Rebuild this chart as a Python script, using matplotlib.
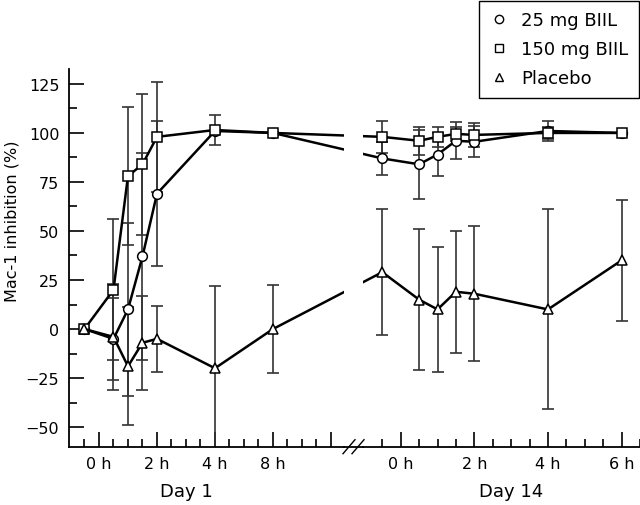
"""Mac-1 inhibition on day 1 and day 14, broken time axis"""

import numpy as np
import matplotlib
matplotlib.use("Agg")
import matplotlib.pyplot as plt
from matplotlib.lines import Line2D
from matplotlib.transforms import blended_transform_factory

plt.rcParams['font.family'] = ['DejaVu Sans']

# sampling times (h), predose drawn at -0.5 h
day1_hours = [-0.5, 0.5, 1, 1.5, 2, 4, 8]
day14_hours = [-0.5, 0.5, 1, 1.5, 2, 4, 6]
day1_ticks = [0, 2, 4, 8, 12]
day1_ticklabels = ['0 h', '2 h', '4 h', '8 h', '']
day14_ticks = [0, 2, 4, 6]
day14_ticklabels = ['0 h', '2 h', '4 h', '6 h']

# mean and SD, day 1
d1_25mg = [0, -5, 10, 37, 69, 101, 100]
d1_25mg_sd = [0, 21, 44, 53, 37, 0, 0]
d1_150mg = [0, 20, 78, 84, 98, 101.5, 100]
d1_150mg_sd = [0, 36, 35, 36, 28, 7.5, 0]
d1_placebo = [0, -4, -19, -7, -5, -20, 0]
d1_placebo_sd = [0, 27, 30, 24, 17, 42, 22.5]

# mean and SD, day 14
d14_25mg = [87, 84, 89, 96, 95.5, 101, 100]
d14_25mg_sd = [8.5, 17.5, 11, 9.5, 8, 5, 0]
d14_150mg = [98, 96, 98, 99.5, 99, 100, 100]
d14_150mg_sd = [8, 7, 5, 3.5, 6, 3, 0]
d14_placebo = [29, 15, 10, 19, 18, 10, 35]
d14_placebo_sd = [32, 36, 32, 31, 34.5, 51, 31]

labels = ['25 mg BIIL', '150 mg BIIL', 'Placebo']
markers = ['o', 's', '^']


def fwd(h):
    """0-4 h linear, after 4 h compressed by 2."""
    h = np.asarray(h, dtype=float)
    return np.where(h <= 4, h, 4 + (h - 4) / 2)


def inv(p):
    p = np.asarray(p, dtype=float)
    return np.where(p <= 4, p, 4 + 2 * (p - 4))


W, H = 640, 506
fig = plt.figure(figsize=(W / 100, H / 100), dpi=100)
bottom, top = 58.3, 436
ax1 = fig.add_axes([69 / W, bottom / H, 275 / W, (top - bottom) / H])
ax2 = fig.add_axes([363 / W, bottom / H, 277 / W, (top - bottom) / H])

ax1.set_xscale('function', functions=(fwd, inv))
ax1.set_xlim(-1.034, float(inv(8.45)))
ax2.set_xlim(-1.024, 6.5)
for ax in (ax1, ax2):
    ax.set_ylim(-60, 132.6)
    for s in ('top', 'right'):
        ax.spines[s].set_visible(False)
    ax.spines['bottom'].set_linewidth(1.3)
    ax.spines['left'].set_linewidth(1.3)
    ax.tick_params(axis='both', which='both', direction='in', width=1.2,
                   labelsize=11.5, pad=7)
    ax.tick_params(which='major', length=11)
    ax.tick_params(which='minor', length=6)
ax2.spines['left'].set_visible(False)
ax2.tick_params(axis='y', which='both', left=False, labelleft=False)

ax1.set_yticks(np.arange(-50, 126, 25))
ax1.set_yticks(np.arange(-50, 131, 12.5), minor=True)
ax1.set_yticklabels([f"{v}".replace('-', '\u2212') for v in range(-50, 126, 25)])
ax1.set_ylabel('Mac-1 inhibition (%)', fontsize=11.5)
ax1.yaxis.set_label_coords(-0.18, 0.6)

ax1.set_xticks(day1_ticks)
ax1.set_xticklabels(day1_ticklabels)
ax1.set_xticks(inv(np.arange(-0.5, 8.01, 0.5)), minor=True)
ax2.set_xticks(day14_ticks)
ax2.set_xticklabels(day14_ticklabels)
ax2.set_xticks(np.arange(-0.5, 6.51, 0.5), minor=True)

ax1.text(3, -0.117, 'Day 1', fontsize=13, ha='center', va='center',
         transform=blended_transform_factory(ax1.transData, ax1.transAxes))
ax2.text(3, -0.117, 'Day 14', fontsize=13, ha='center', va='center',
         transform=blended_transform_factory(ax2.transData, ax2.transAxes))

err_kw = dict(fmt='none', ecolor='#333333', elinewidth=1.2, capsize=4.5,
              capthick=1.2, zorder=2)
mk_kw = dict(color='black', lw=1.8, markersize=7, markerfacecolor='white',
             markeredgecolor='black', markeredgewidth=1.1, zorder=3)

series = [
    (d1_25mg, d1_25mg_sd, d14_25mg, d14_25mg_sd),
    (d1_150mg, d1_150mg_sd, d14_150mg, d14_150mg_sd),
    (d1_placebo, d1_placebo_sd, d14_placebo, d14_placebo_sd),
]

for (y1, e1, y14, e14), m in zip(series, markers):
    ax1.errorbar(day1_hours, y1, yerr=e1, **err_kw)
    ax2.errorbar(day14_hours, y14, yerr=e14, **err_kw)
    ax1.plot(day1_hours, y1, marker=m, **mk_kw)
    ax2.plot(day14_hours, y14, marker=m, **mk_kw)

    # bridge across the break: straight line in display space
    p14 = ax2.transData.transform((day14_hours[0], y14[0]))
    x_in1 = ax1.transData.inverted().transform(p14)[0]
    ax1.plot([day1_hours[-1], x_in1], [y1[-1], y14[0]], color='black',
             lw=1.8, zorder=2.5)
    p1 = ax1.transData.transform((day1_hours[-1], y1[-1]))
    x_in2 = ax2.transData.inverted().transform(p1)[0]
    ax2.plot([x_in2, day14_hours[0]], [y1[-1], y14[0]], color='black',
             lw=1.8, zorder=2.5)

# axis line across the gap and break marks
yb = bottom / H
fig.add_artist(Line2D([344 / W, 363 / W], [yb, yb], color='black', lw=1.3))
for x0 in (343, 352):
    fig.add_artist(Line2D([x0 / W, (x0 + 12) / W], [(bottom - 7) / H, (bottom + 7) / H],
                          color='black', lw=1.0))

handles = [Line2D([], [], linestyle='none', marker=m, markersize=6,
                  markerfacecolor='white', markeredgecolor='black',
                  markeredgewidth=1.0) for m in markers]
leg = fig.legend(handles, labels, loc='upper right', bbox_to_anchor=(639 / W, 1 - 1.5 / H),
                 fontsize=13, frameon=True, fancybox=False, framealpha=1,
                 edgecolor='black', handlelength=1.0, handletextpad=0.7,
                 labelspacing=0.6, borderpad=0.6, borderaxespad=0)
leg.get_frame().set_linewidth(1.0)

fig.savefig('out.png', dpi=100)
